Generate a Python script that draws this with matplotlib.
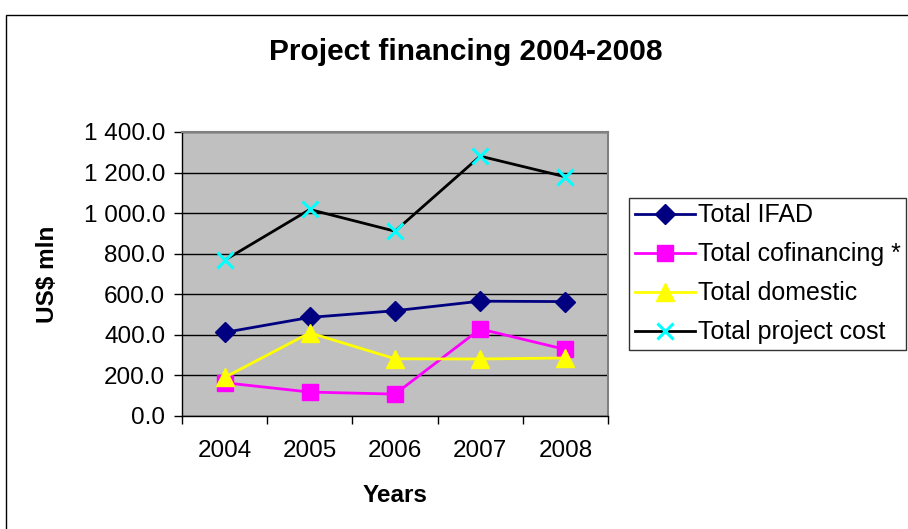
import matplotlib
matplotlib.use('Agg')
import matplotlib.pyplot as plt
from matplotlib.ticker import FuncFormatter, FixedLocator
from matplotlib.patches import Rectangle

plt.rcParams['font.family'] = ['Liberation Sans', 'DejaVu Sans']

years = ['2004', '2005', '2006', '2007', '2008']
total_ifad = [412, 486, 519, 566, 564]
total_cofin = [164, 118, 108, 429, 328]
total_domestic = [190, 410, 282, 281, 286]
total_cost = [768, 1018, 911, 1281, 1179]

fig = plt.figure(figsize=(9.08, 5.29), dpi=100)

# outer chart frame (Excel style)
fig.patches.append(Rectangle((6 / 908, -0.01), 1.0, 1 - 15 / 529 + 0.01,
                             transform=fig.transFigure, fill=False,
                             edgecolor='black', linewidth=1.0))

ax = fig.add_axes([182 / 908, 1 - 416 / 529, 426 / 908, 284 / 529])
ax.set_facecolor('#C0C0C0')

x = list(range(len(years)))
ax.plot(x, total_ifad, color='#000080', lw=2, marker='D', ms=10,
        mfc='#000080', mec='#000080', label='Total IFAD')
ax.plot(x, total_cofin, color='#FF00FF', lw=2, marker='s', ms=11,
        mfc='#FF00FF', mec='#FF00FF', label='Total cofinancing *')
ax.plot(x, total_domestic, color='#FFFF00', lw=2, marker='^', ms=12.5,
        mfc='#FFFF00', mec='#FFFF00', label='Total domestic')
ax.plot(x, total_cost, color='black', lw=2, marker='x', ms=11, mew=2.2,
        mec='#00FFFF', label='Total project cost')

ax.set_xlim(-0.5, 4.5)
ax.set_ylim(0, 1400)
ax.set_yticks(range(0, 1401, 200))
ax.yaxis.set_major_formatter(FuncFormatter(lambda v, p: f'{v:,.1f}'.replace(',', ' ')))
ax.grid(axis='y', color='black', lw=1)
ax.set_axisbelow(True)

ax.set_xticks(x)
ax.set_xticklabels(years)
ax.xaxis.set_minor_locator(FixedLocator([i - 0.5 for i in range(len(years) + 1)]))
ax.tick_params(axis='x', which='major', length=0, pad=17, labelsize=17.5)
ax.tick_params(axis='x', which='minor', length=6, width=1, color='black')
ax.tick_params(axis='y', length=6, width=1, labelsize=17.5, pad=6)

for s in ['top', 'right']:
    ax.spines[s].set_color('#808080')
    ax.spines[s].set_linewidth(1.5)
for s in ['left', 'bottom']:
    ax.spines[s].set_color('black')
    ax.spines[s].set_linewidth(1)

ax.set_xlabel('Years', fontsize=17.5, fontweight='bold', va='center')
ax.set_ylabel('US$ mln', fontsize=17.5, fontweight='bold', va='center')
ax.xaxis.set_label_coords(0.5, (416 - 495) / 284)
ax.yaxis.set_label_coords((47 - 182) / 426, 0.5)

fig.text(0.513, 1 - 52 / 529, 'Project financing 2004-2008', ha='center', va='center',
         fontsize=21.5, fontweight='bold')

leg = ax.legend(loc='upper left', bbox_to_anchor=(629 / 908, 1 - 198 / 529),
                bbox_transform=fig.transFigure, fontsize=18, frameon=True,
                fancybox=False, edgecolor='black', borderpad=0.22,
                labelspacing=0.6, handlelength=2.4, handletextpad=0.12,
                borderaxespad=0)
leg.get_frame().set_linewidth(1)

fig.savefig('out.png', dpi=100, facecolor='white')
